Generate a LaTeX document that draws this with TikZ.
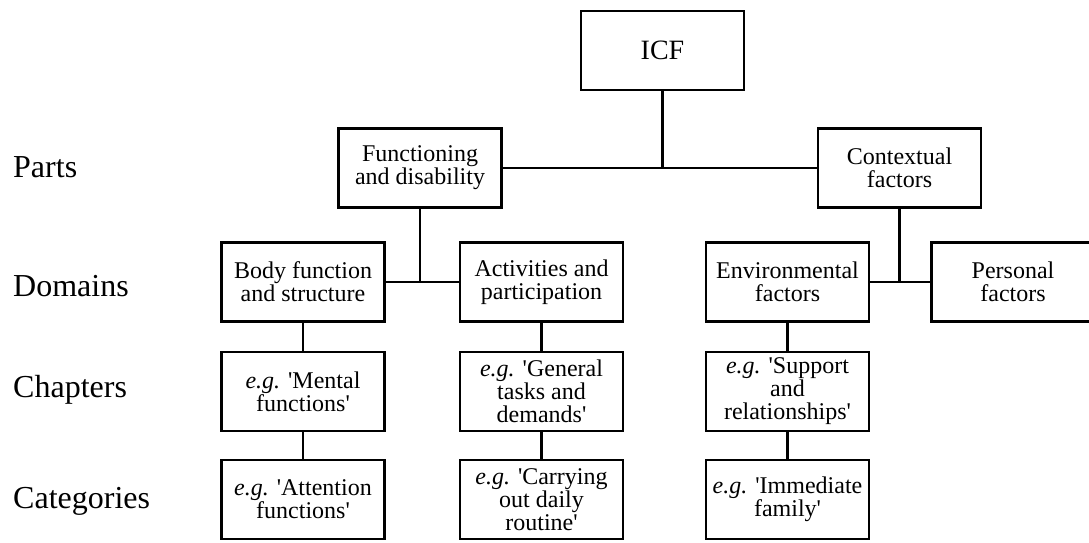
\documentclass[tikz,border=0pt]{standalone}
\usepackage{fontspec}
\setmainfont{Liberation Serif}
\usetikzlibrary{positioning, calc}

\newcommand{\eg}{\textit{e.g.}}
\newcommand{\apos}{\textquotesingle}

\begin{document}
\begin{tikzpicture}[x=1pt, y=-1pt,
    font=\fontsize{24}{23}\selectfont, % Serifenschrift wie im Bild
    icfbox/.style={draw, rectangle, line width=2.9pt, minimum width=163pt, minimum height=79pt, align=center, inner sep=2pt},
    rowlabel/.style={anchor=base west, inner sep=0pt, font=\fontsize{32}{32}\selectfont},
    link/.style={line width=2.9pt}
]
\useasboundingbox (0,0) rectangle (1089,543);

% 1. Ebenen links
\node[rowlabel] (parts) at (13,177) {Parts};
\node[rowlabel] (domains) at (13,296) {Domains};
\node[rowlabel] (chapters) at (13,397) {Chapters};
\node[rowlabel] (categories) at (13,508) {Categories};

% 2. Wurzel und Teile
\node[icfbox, font=\fontsize{28}{28}\selectfont] (icf) at (662.5,50.5) {ICF};
\node[icfbox] (func) at (420,168) {Functioning\\and disability};
\node[icfbox] (ctx) at (899.5,168) {Contextual\\factors};

% 3. Domänen
\node[icfbox] (body) at (303,282) {Body function\\and structure};
\node[icfbox] (act) at (541.5,282) {Activities and\\participation};
\node[icfbox] (env) at (787.5,282) {Environmental\\factors};
\node[icfbox] (pers) at (1013,282) {Personal\\factors};

% 4. Kapitel
\node[icfbox] (chbody) at (303,391.5) {\eg{} \apos Mental\\functions\apos};
\node[icfbox] (chact) at (541.5,391.5) {\eg{} \apos General\\tasks and\\demands\apos};
\node[icfbox] (chenv) at (787.5,391.5) {\eg{} \apos Support\\and\\relationships\apos};

% 5. Kategorien
\node[icfbox] (cabody) at (303,499.5) {\eg{} \apos Attention\\functions\apos};
\node[icfbox] (caact) at (541.5,499.5) {\eg{} \apos Carrying\\out daily\\routine\apos};
\node[icfbox] (caenv) at (787.5,499.5) {\eg{} \apos Immediate\\family\apos};

% 6. Verbindungen
\draw[link] (func.east) -- (ctx.west);
\draw[link] (icf.south) -- (icf.south |- func.east);
\draw[link] (body.east) -- (act.west);
\draw[link] (func.south) -- (func.south |- body.east);
\draw[link] (env.east) -- (pers.west);
\draw[link] (ctx.south) -- (ctx.south |- env.east);
\draw[link] (body) -- (chbody);
\draw[link] (chbody) -- (cabody);
\draw[link] (act) -- (chact);
\draw[link] (chact) -- (caact);
\draw[link] (env) -- (chenv);
\draw[link] (chenv) -- (caenv);

\end{tikzpicture}
\end{document}
